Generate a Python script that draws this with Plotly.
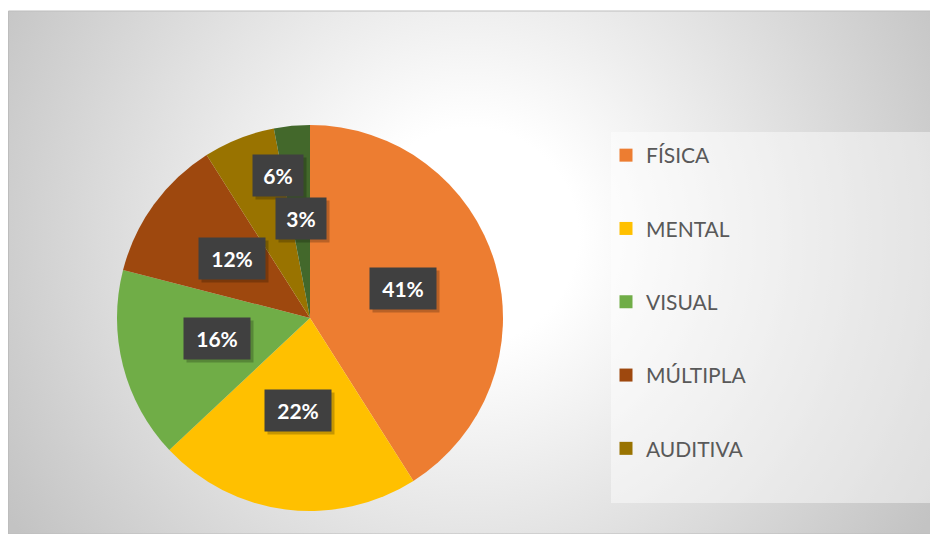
import base64
import math
import plotly.graph_objects as go

# ---- data ----
categories = ["FÍSICA", "MENTAL", "VISUAL", "MÚLTIPLA", "AUDITIVA", "OUTRAS"]
values = [41, 22, 16, 12, 6, 3]
colors = ["#ED7D31", "#FFC000", "#70AD47", "#9E480E", "#997300", "#43682B"]
legend_categories = categories[:5]  # the sixth entry is cut off in the original legend

# The page body has an 8px margin, so the figure starts at page (8, 8)
OFF = 8
W, H = 938 - OFF, 534 - OFF
FONT = "Lato"


def px_x(px):
    return (px - OFF) / W


def px_y(py):
    return 1 - (py - OFF) / H


# pie placement (page pixels -> paper fractions)
dom_x = [px_x(117), px_x(503)]
dom_y = [px_y(511), px_y(125)]

fig = go.Figure()
fig.add_trace(go.Pie(
    labels=categories, values=values, sort=False, direction="clockwise",
    rotation=0, marker=dict(colors=colors, line=dict(width=0)),
    textinfo="none", showlegend=False, domain=dict(x=dom_x, y=dom_y),
    hovertemplate="%{label}: %{percent}<extra></extra>",
))

# legend entries via dummy traces
for i, (name, col) in enumerate(zip(legend_categories, colors)):
    fig.add_trace(go.Scatter(
        x=[None], y=[None], mode="markers", name=name, legendgroup=f"g{i}",
        marker=dict(symbol="square", size=13, color=col),
    ))

# ---- data labels (dark boxes) ----
total = sum(values)
cx = (dom_x[0] + dom_x[1]) / 2 * W
cy = (1 - (dom_y[0] + dom_y[1]) / 2) * H
R = min((dom_x[1] - dom_x[0]) * W, (dom_y[1] - dom_y[0]) * H) / 2
label_nudge = {4: (4, -50)}  # Excel pushed the small 6% label outward
LABEL_DY = -3
annotations = []
cum = 0
for i, v in enumerate(values):
    mid = (cum + v / 2) / total * 2 * math.pi
    cum += v
    fx = cx + 0.5 * R * math.sin(mid)
    fy = cy - 0.5 * R * math.cos(mid) + LABEL_DY
    if i in label_nudge:
        fx += label_nudge[i][0]
        fy += label_nudge[i][1]
    txt = f"{round(v / total * 100)}%"
    w = 54 if len(txt) >= 3 else 38
    common = dict(xref="paper", yref="paper", xanchor="center", yanchor="middle",
                  showarrow=False, width=w, height=29, borderpad=6)
    # shadow box (no text)
    annotations.append(dict(
        x=(fx + 3) / W, y=1 - (fy + 3) / H, bgcolor="rgba(0,0,0,0.22)", text=" ",
        font=dict(family=FONT, size=21, color="rgba(0,0,0,0)"), **common,
    ))
    annotations.append(dict(
        x=fx / W, y=1 - fy / H, bgcolor="#404040", text=txt,
        font=dict(family=FONT, size=21, color="white", weight="bold"), **common,
    ))

# ---- background: radial gradient inside the frame ----
top = 11 - OFF
fw, fh = W, H - top
svg = f'''<svg xmlns="http://www.w3.org/2000/svg" width="{fw}" height="{fh}" viewBox="0 0 {fw} {fh}" preserveAspectRatio="none">
<defs><radialGradient id="g" gradientUnits="userSpaceOnUse" cx="462" cy="225" r="540">
<stop offset="0" stop-color="#ffffff"/><stop offset="0.2" stop-color="#ffffff"/>
<stop offset="1" stop-color="#c3c3c3"/></radialGradient></defs>
<rect x="0" y="0" width="{fw}" height="{fh}" fill="url(#g)"/></svg>'''
src = "data:image/svg+xml;base64," + base64.b64encode(svg.encode()).decode()

fig.update_layout(
    width=W, height=H, margin=dict(l=0, r=0, t=0, b=0),
    paper_bgcolor="white", plot_bgcolor="rgba(0,0,0,0)",
    xaxis=dict(visible=False, domain=[0.99, 1]), yaxis=dict(visible=False, domain=[0.99, 1]),
    images=[dict(source=src, xref="paper", yref="paper", x=0, y=px_y(11),
                 sizex=1, sizey=fh / H, sizing="stretch", layer="below",
                 xanchor="left", yanchor="top")],
    shapes=[
        dict(type="rect", xref="paper", yref="paper", x0=0.0005, x1=1.0, y0=0, y1=px_y(11),
             line=dict(color="#bdbdbd", width=1), layer="below"),
        dict(type="rect", xref="paper", yref="paper", x0=px_x(611), x1=px_x(933),
             y0=px_y(503), y1=px_y(132), line=dict(width=0),
             fillcolor="rgba(255,255,255,0.45)", layer="below"),
    ],
    legend=dict(x=px_x(606), y=px_y(135), xanchor="left", yanchor="top",
                bgcolor="rgba(0,0,0,0)", font=dict(family=FONT, size=21, color="#595959"),
                tracegroupgap=43, itemclick=False, itemdoubleclick=False),
    annotations=annotations,
    font=dict(family=FONT),
)

fig.write_html("out.html")
